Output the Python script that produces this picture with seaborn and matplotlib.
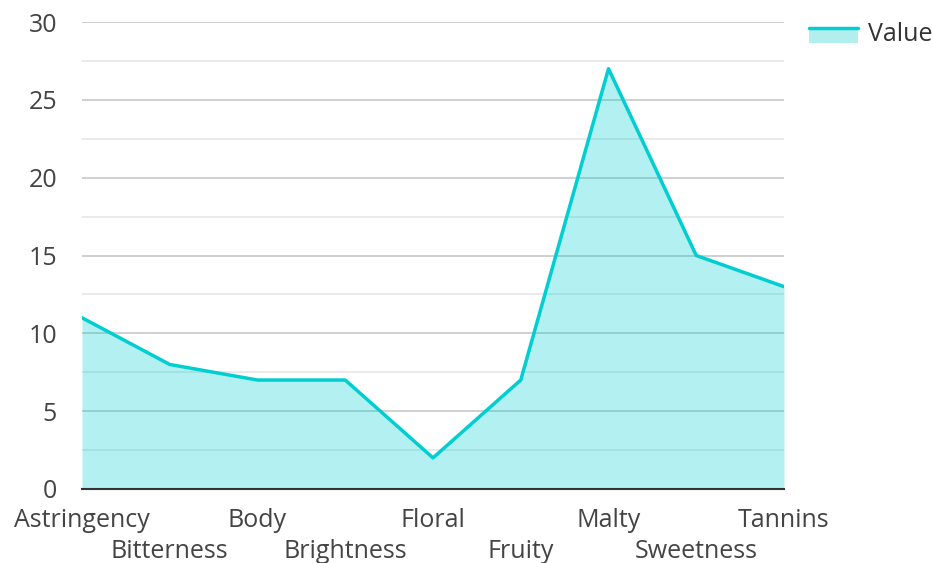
import matplotlib
matplotlib.use("Agg")
import matplotlib.pyplot as plt
import matplotlib.transforms as mtrans
import seaborn as sns
import pandas as pd
import numpy as np
from matplotlib.legend_handler import HandlerBase
from matplotlib.patches import Rectangle
from matplotlib.lines import Line2D

categories = ["Astringency", "Bitterness", "Body", "Brightness", "Floral",
              "Fruity", "Malty", "Sweetness", "Tannins"]
values = [11, 8, 7, 7, 2, 7, 27, 15, 13]
y_ticks = [0, 5, 10, 15, 20, 25, 30]
series_name = "Value"

LINE = "#00CED1"
FILL = "#b2eeee"
FS = 18

sns.set_theme(style="white")
plt.rcParams['font.family'] = ['Open Sans', 'DejaVu Sans']

df = pd.DataFrame({"cat": categories, "val": values, "x": np.arange(len(categories))})

fig = plt.figure(figsize=(9.33, 5.63), dpi=100)
ax = fig.add_axes([82/933, 1 - 489/563, (784-82)/933, (489-22)/563])

ax.fill_between(df["x"], 0, df["val"], color=LINE, alpha=0.3, linewidth=0, zorder=1)
sns.lineplot(data=df, x="x", y="val", ax=ax, color=LINE, linewidth=2.5, zorder=3, legend=False)

ax.set_xlim(0, len(categories) - 1)
ax.set_ylim(0, 30)
ax.set_yticks(y_ticks)
ax.set_yticks(np.arange(2.5, 30, 5), minor=True)
ax.set_axisbelow(True)
ax.grid(True, which="major", axis="y", color="#c8c8c8", linewidth=1.2)
ax.grid(True, which="minor", axis="y", color="#e6e6e6", linewidth=1.2)
ax.set_xticks(df["x"])
ax.set_xticklabels(categories)
ax.tick_params(axis="both", which="both", length=0, labelsize=FS, labelcolor="#444444")
ax.tick_params(axis="y", pad=18)
ax.tick_params(axis="x", pad=14)
for i, lab in enumerate(ax.get_xticklabels()):
    if i % 2 == 1:
        lab.set_transform(lab.get_transform() +
                          mtrans.ScaledTranslation(0, -30.5/100, fig.dpi_scale_trans))
for s in ["top", "right", "left"]:
    ax.spines[s].set_visible(False)
ax.spines["bottom"].set_color("#333333")
ax.spines["bottom"].set_linewidth(1.5)
ax.spines["bottom"].set_zorder(4)
ax.set_xlabel("")
ax.set_ylabel("")


class AreaHandler(HandlerBase):
    def create_artists(self, legend, orig_handle, xdescent, ydescent, width, height, fontsize, trans):
        yc = -ydescent + height * 0.75
        r = Rectangle((-xdescent, yc - height * 0.95), width, height * 0.95,
                      facecolor=FILL, edgecolor="none", transform=trans)
        l = Line2D([-xdescent, -xdescent + width], [yc, yc],
                   color=LINE, linewidth=2.5, transform=trans)
        return [r, l]


proxy = Rectangle((0, 0), 1, 1)
leg = fig.legend([proxy], [series_name], handler_map={Rectangle: AreaHandler()},
                 loc="upper left", bbox_to_anchor=(809/933, 1 - 22/563), frameon=False,
                 borderpad=0, borderaxespad=0,
                 fontsize=FS, handlelength=1.95, handleheight=0.55, handletextpad=0.4)
for t in leg.get_texts():
    t.set_color("#333333")

fig.savefig("out.png", dpi=100)
